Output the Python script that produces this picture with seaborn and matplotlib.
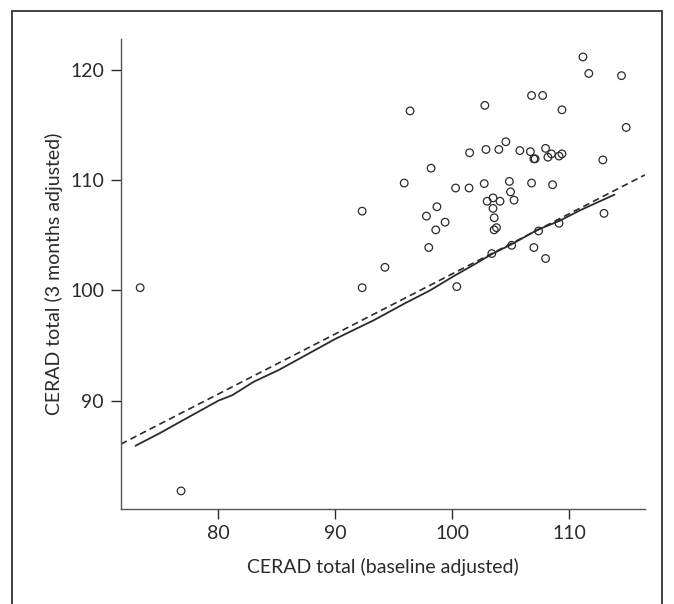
import matplotlib
matplotlib.use("Agg")
import matplotlib.pyplot as plt
import seaborn as sns
import pandas as pd
from matplotlib.patches import Rectangle

# Individual patients: baseline vs 3-month adjusted CERAD totals
baseline = [111.2, 111.7, 114.5, 106.8, 107.75, 102.8, 96.4, 109.4, 114.9, 104.6,
            101.5, 102.9, 104.0, 105.8, 106.7, 108.0, 108.5, 109.4, 107.0, 107.1,
            108.2, 109.15, 112.9, 98.2, 95.9, 100.3, 101.45, 102.75, 104.9, 106.8,
            108.6, 105.0, 103.0, 103.5, 104.1, 105.3, 98.7, 92.3, 103.5, 97.8,
            103.6, 99.4, 98.6, 103.6, 103.8, 107.4, 109.15, 113.0, 98.0, 107.0,
            105.1, 103.4, 108.0, 94.25, 92.3, 100.4, 73.3, 76.8]
month3 = [121.2, 119.7, 119.5, 117.7, 117.7, 116.8, 116.3, 116.4, 114.8, 113.5,
          112.5, 112.8, 112.8, 112.7, 112.6, 112.9, 112.4, 112.4, 111.95, 111.95,
          112.1, 112.2, 111.85, 111.1, 109.75, 109.3, 109.3, 109.7, 109.9, 109.75,
          109.6, 108.95, 108.1, 108.4, 108.1, 108.2, 107.6, 107.2, 107.45, 106.75,
          106.6, 106.2, 105.5, 105.5, 105.7, 105.4, 106.1, 107.0, 103.9, 103.9,
          104.1, 103.35, 102.9, 102.1, 100.25, 100.35, 100.25, 81.8]

# Smoothed fit (solid)
smooth_x = [72.9, 74.9, 76.76, 80.0, 81.2, 83.0, 85.2, 90.0, 93.3, 95.9,
            98.1, 100.3, 101.8, 103.4, 105.1, 107.3, 109.15, 111.0, 113.9]
smooth_y = [85.9, 87.0, 88.1, 90.0, 90.5, 91.7, 92.8, 95.6, 97.3, 98.8,
            100.0, 101.4, 102.3, 103.3, 104.2, 105.5, 106.3, 107.3, 108.7]

# Linear fit (dashed)
linear_x = [71.64, 116.5]
linear_y = [86.05, 110.49]

xticks = [80, 90, 100, 110]
yticks = [90, 100, 110, 120]

sns.set_theme(style="ticks")
plt.rcParams["font.family"] = ["Lato", "DejaVu Sans"]

ink = "#2b2b2b"
fig = plt.figure(figsize=(6.74, 6.04), dpi=100)
ax = fig.add_axes([0.1792, 0.158, 0.7776, 0.7782])

pts = pd.DataFrame({"baseline": baseline, "month3": month3})
sns.scatterplot(data=pts, x="baseline", y="month3", ax=ax, marker="o",
                s=30, facecolor="none", edgecolor=ink, linewidth=0.9, zorder=3)

sns.lineplot(x=linear_x, y=linear_y, ax=ax, color=ink, linewidth=1.2,
             linestyle=(0, (4, 2.5)), sort=False, zorder=2)
sns.lineplot(x=smooth_x, y=smooth_y, ax=ax, color=ink, linewidth=1.3,
             sort=False, zorder=2)

ax.set_xlim(71.64, 116.5)
ax.set_ylim(80.2, 122.87)
ax.set_xticks(xticks)
ax.set_yticks(yticks)
ax.set_xlabel("CERAD total (baseline adjusted)", fontsize=14, color=ink, labelpad=11)
ax.set_ylabel("CERAD total (3 months adjusted)", fontsize=14, color=ink, labelpad=5)
ax.tick_params(axis="both", labelsize=14, colors=ink, length=7, width=1, pad=5)
for side in ("top", "right"):
    ax.spines[side].set_visible(False)
for side in ("left", "bottom"):
    ax.spines[side].set_color("#555555")
    ax.spines[side].set_linewidth(1.0)

# Outer frame around the figure panel
fig.patches.append(Rectangle((12 / 674, -0.05), 650 / 674, (604 - 11 + 30) / 604,
                             transform=fig.transFigure, fill=False,
                             edgecolor="#333333", linewidth=1.3))

fig.savefig("out.png", dpi=100)
